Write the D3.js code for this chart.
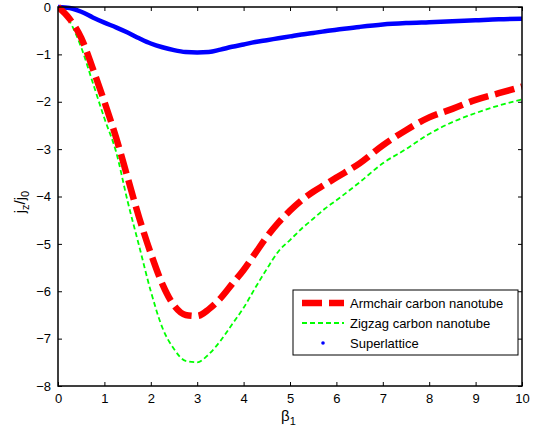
<!DOCTYPE html>
<html>
<head>
<meta charset="utf-8">
<script src="https://cdn.jsdelivr.net/npm/d3@7"></script>
<style>
  body { margin: 0; background: #fff; }
  text { font-family: "Liberation Sans", Arial, sans-serif; fill: #000; }
</style>
</head>
<body>
<div id="chart"></div>
<script>
/* values */
var beta = [0, 0.25, 0.5, 0.75, 1, 1.25, 1.5, 1.75, 2, 2.25, 2.5, 2.75, 3, 3.25, 3.5, 3.75, 4, 4.25, 4.5, 4.75, 5, 5.25, 5.5, 5.75, 6, 6.5, 7, 7.5, 8, 8.5, 9, 9.5, 10];
var armchair = [0, -0.25, -0.65, -1.3, -2.0, -2.75, -3.6, -4.45, -5.2, -5.85, -6.3, -6.5, -6.52, -6.38, -6.15, -5.85, -5.55, -5.2, -4.85, -4.55, -4.3, -4.08, -3.9, -3.75, -3.6, -3.3, -2.92, -2.6, -2.33, -2.15, -1.96, -1.82, -1.68];
var zigzag = [0, -0.3, -0.85, -1.6, -2.35, -3.05, -4.1, -5.05, -6.0, -6.77, -7.22, -7.47, -7.5, -7.33, -7.05, -6.7, -6.35, -5.93, -5.53, -5.16, -4.92, -4.68, -4.47, -4.26, -4.08, -3.7, -3.3, -3.0, -2.68, -2.43, -2.24, -2.08, -1.95];
var superlattice = [0, -0.02, -0.1, -0.22, -0.33, -0.43, -0.54, -0.66, -0.77, -0.85, -0.91, -0.95, -0.96, -0.95, -0.9, -0.84, -0.79, -0.74, -0.7, -0.66, -0.62, -0.58, -0.55, -0.51, -0.48, -0.42, -0.37, -0.34, -0.32, -0.3, -0.28, -0.26, -0.25];
var xTicks = [0, 1, 2, 3, 4, 5, 6, 7, 8, 9, 10];
var yTicks = [0, -1, -2, -3, -4, -5, -6, -7, -8];
var seriesNames = ["Armchair carbon nanotube", "Zigzag carbon nanotube", "Superlattice"];

var W = 533, H = 434;
var margin = { top: 7, right: 11, bottom: 48, left: 58 };
var w = W - margin.left - margin.right,
    h = H - margin.top - margin.bottom;

var svg = d3.select("#chart").append("svg")
    .attr("width", W)
    .attr("height", H);

var g = svg.append("g")
    .attr("transform", "translate(" + margin.left + "," + margin.top + ")");

var x = d3.scaleLinear().domain([0, 10]).range([0, w]);
var y = d3.scaleLinear().domain([-8, 0]).range([h, 0]);

/* axes with inward ticks on all four sides */
function styleAxis(sel) {
    sel.select(".domain").remove();
    sel.selectAll("line").attr("stroke", "#000").attr("stroke-width", 1);
    sel.selectAll("text").style("font-size", "13px")
        .style("font-family", "'Liberation Sans', Arial, sans-serif");
}

g.append("g").attr("transform", "translate(0," + h + ")")
    .call(d3.axisBottom(x).tickValues(xTicks).tickSize(-4).tickPadding(8))
    .call(styleAxis);
g.append("g")
    .call(d3.axisTop(x).tickValues(xTicks).tickSize(-4).tickFormat(""))
    .call(styleAxis);
g.append("g")
    .call(d3.axisLeft(y).tickValues(yTicks).tickSize(-4).tickPadding(7))
    .call(styleAxis);
g.append("g").attr("transform", "translate(" + w + ",0)")
    .call(d3.axisRight(y).tickValues(yTicks).tickSize(-4).tickFormat(""))
    .call(styleAxis);

var line = d3.line()
    .x(function(d) { return x(d[0]); })
    .y(function(d) { return y(d[1]); })
    .curve(d3.curveMonotoneX);

g.append("clipPath").attr("id", "clip")
    .append("rect").attr("x", 0).attr("y", -3).attr("width", w).attr("height", h + 3);

var plot = g.append("g").attr("clip-path", "url(#clip)");

plot.append("path")
    .datum(d3.zip(beta, superlattice))
    .attr("d", line)
    .attr("fill", "none")
    .attr("stroke", "#0000ff")
    .attr("stroke-width", 4.5);

plot.append("path")
    .datum(d3.zip(beta, zigzag))
    .attr("d", line)
    .attr("fill", "none")
    .attr("stroke", "#00ff00")
    .attr("stroke-width", 1.8)
    .attr("stroke-dasharray", "5,3");

plot.append("path")
    .datum(d3.zip(beta, armchair))
    .attr("d", line)
    .attr("fill", "none")
    .attr("stroke", "#ff0000")
    .attr("stroke-width", 6.5)
    .attr("stroke-dasharray", "20,7");

/* frame */
g.append("rect")
    .attr("width", w).attr("height", h)
    .attr("fill", "none").attr("stroke", "#000").attr("stroke-width", 1.5);

/* axis labels */
var xl = svg.append("text")
    .attr("x", 281).attr("y", 421)
    .style("font-size", "15px");
xl.append("tspan").text("β");
xl.append("tspan").attr("dy", 4).style("font-size", "11px").text("1");

var yl = svg.append("text")
    .attr("transform", "translate(25,202) rotate(-90)")
    .attr("text-anchor", "middle")
    .style("font-size", "15px");
yl.append("tspan").text("j");
yl.append("tspan").attr("dy", 4).style("font-size", "11px").text("z");
yl.append("tspan").attr("dy", -4).text("/j");
yl.append("tspan").attr("dy", 4).style("font-size", "11px").text("0");

/* legend */
var lg = svg.append("g").attr("transform", "translate(293,290)");
lg.append("rect")
    .attr("width", 225).attr("height", 65)
    .attr("fill", "#fff").attr("stroke", "#000").attr("stroke-width", 1);

var rows = lg.selectAll(".row").data(seriesNames).enter().append("g")
    .attr("transform", function(d, i) { return "translate(0," + (13 + i * 20) + ")"; });

rows.append("text")
    .attr("x", 57).attr("dy", "0.35em")
    .style("font-size", "13px")
    .text(function(d) { return d; });

lg.append("line").attr("x1", 9).attr("x2", 51).attr("y1", 13).attr("y2", 13)
    .attr("stroke", "#ff0000").attr("stroke-width", 6.5).attr("stroke-dasharray", "20,7");
lg.append("line").attr("x1", 9).attr("x2", 51).attr("y1", 33).attr("y2", 33)
    .attr("stroke", "#00ff00").attr("stroke-width", 1.8).attr("stroke-dasharray", "5,3");
lg.append("circle").attr("cx", 30).attr("cy", 53).attr("r", 1.8).attr("fill", "#0000ff");
</script>
</body>
</html>
